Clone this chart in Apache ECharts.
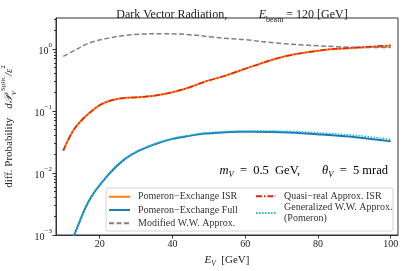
<!DOCTYPE html>
<html><head><meta charset="utf-8">
<script src="https://cdn.jsdelivr.net/npm/echarts@6/dist/echarts.min.js"></script>
<style>html,body{margin:0;padding:0;background:#fff}#c{width:407px;height:271px}</style>
</head><body><div id="c"></div>
<script>
// ---- data ----
const isrEnergies = [10, 13.4, 19, 22.6, 26.3, 30.8, 35.4, 40, 44.6, 49.1, 54.6, 59.2, 63.8, 68.4, 73, 77.5, 82.1, 86.7, 91.3, 95.8, 100];
const isrValues = [0.0229, 0.055, 0.1135, 0.145, 0.161, 0.167, 0.178, 0.201, 0.240, 0.300, 0.372, 0.462, 0.571, 0.697, 0.810, 0.893, 0.975, 1.02, 1.055, 1.085, 1.10];
const quasiRealValues = [0.0229, 0.055, 0.1135, 0.145, 0.161, 0.167, 0.178, 0.201, 0.240, 0.300, 0.372, 0.462, 0.571, 0.697, 0.810, 0.893, 0.975, 1.02, 1.065, 1.11, 1.15];
const wwEnergies = [10, 13.4, 17.1, 21.7, 26.3, 30.8, 37.3, 44.6, 51, 55.1, 60.1, 68.4, 77.4, 86.7, 93, 100];
const modifiedWWValues = [0.76, 0.97, 1.25, 1.47, 1.64, 1.73, 1.77, 1.70, 1.56, 1.48, 1.41, 1.25, 1.15, 1.08, 1.06, 1.06];
const fullEnergies = [12, 13, 17.1, 21.7, 26.3, 30.8, 35.4, 40, 44.6, 49.1, 53.7, 58.3, 62.9, 72, 81.2, 90.4, 100];
const fullValues = [0.0007, 0.0010, 0.0036, 0.0084, 0.0157, 0.0229, 0.0294, 0.0355, 0.0397, 0.0433, 0.0450, 0.0461, 0.0461, 0.0450, 0.0417, 0.0377, 0.0324];
const genWWValues = [0.0007, 0.0010, 0.0036, 0.0085, 0.0159, 0.0232, 0.0298, 0.0362, 0.0406, 0.0444, 0.0463, 0.0474, 0.0476, 0.0470, 0.0441, 0.0404, 0.0350];
const xTicks = [20, 40, 60, 80, 100];
const yTicks = [0.001, 0.01, 0.1, 1];
const yMinorTicks = [];
[0.001, 0.01, 0.1, 1].forEach(d => { for (let k = 2; k <= 9; k++) { const v = +(d * k).toPrecision(3); if (v < 3.1623) yMinorTicks.push(v); } });
const names = ['Pomeron\u2212Exchange ISR', 'Pomeron\u2212Exchange Full', 'Modified W.W. Approx.', 'Quasi\u2212real Approx. ISR', 'Generalized W.W. Approx.\n(Pomeron)'];

const pair = (xs, ys) => xs.map((x, i) => [x, ys[i]]);
const F = 'Liberation Serif';
const C = '#222';
const chart = echarts.init(document.getElementById('c'), null, {renderer: 'canvas'});
chart.setOption({
  animation: false,
  backgroundColor: '#fff',
  textStyle: {fontFamily: F},
  title: {
    text: '{r|Dark Vector Radiation,}       {i|E}{sb|beam}{r| = 120 [GeV]}',
    left: 227, top: 1, textAlign: 'center',
    textStyle: {fontWeight: 'normal', rich: {
      r: {fontFamily: F, fontSize: 12, fontWeight: 'normal', color: C, lineHeight: 14},
      i: {fontFamily: F, fontSize: 12, fontWeight: 'normal', fontStyle: 'italic', color: C, lineHeight: 14},
      sb: {fontFamily: F, fontSize: 8, fontWeight: 'normal', color: C, verticalAlign: 'bottom', lineHeight: 16}
    }}
  },
  grid: {left: 56, right: 9, top: 18, bottom: 36, show: true, borderColor: '#333', borderWidth: 1,
         backgroundColor: 'transparent', outerBoundsMode: 'none', containLabel: false},
  xAxis: {
    type: 'value', min: 8, max: 102,
    name: '{i|E}{sb|V}{r|  [GeV]}', nameLocation: 'middle', nameGap: 17,
    nameTextStyle: {rich: {
      r: {fontFamily: F, fontSize: 11, color: C},
      i: {fontFamily: F, fontSize: 11, fontStyle: 'italic', color: C},
      sb: {fontFamily: F, fontSize: 7.5, fontStyle: 'italic', color: C, verticalAlign: 'bottom', lineHeight: 16}
    }},
    axisLine: {lineStyle: {color: '#333', width: 1}},
    axisTick: {customValues: xTicks, length: 3.5, lineStyle: {color: '#333'}},
    axisLabel: {customValues: xTicks, fontFamily: F, fontSize: 10, color: C, margin: 4},
    splitLine: {show: false}
  },
  yAxis: [{
    type: 'log', logBase: 10, min: 0.001, max: 3.1623,
    name: '{r|diff. Probability}   {i|d\uD835\uDCAB}{sb|V}{sp|Split.}{i|/\u03B5}{sp|2}', nameLocation: 'middle', nameGap: 38,
    nameTextStyle: {rich: {
      r: {fontFamily: F, fontSize: 11, color: C, lineHeight: 16},
      i: {fontFamily: F, fontSize: 11, fontStyle: 'italic', color: C, lineHeight: 16},
      sb: {fontFamily: F, fontSize: 7, fontStyle: 'italic', color: C, verticalAlign: 'bottom', lineHeight: 18},
      sp: {fontFamily: F, fontSize: 7, color: C, verticalAlign: 'top', lineHeight: 18}
    }},
    axisLine: {show: true, lineStyle: {color: '#333', width: 1}},
    axisTick: {customValues: yTicks, length: 3.5, lineStyle: {color: '#333'}},
    axisLabel: {
      customValues: yTicks, margin: 4,
      formatter: v => { const e = Math.round(Math.log10(v)); return '{b|10}{s|' + (e < 0 ? '\u2212' + (-e) : e) + '}'; },
      rich: {b: {fontFamily: F, fontSize: 10, color: C, lineHeight: 14, verticalAlign: 'bottom'},
             s: {fontFamily: F, fontSize: 7, verticalAlign: 'top', lineHeight: 14, color: C}}
    },
    splitLine: {show: false}
  }, {
    type: 'log', logBase: 10, min: 0.001, max: 3.1623, position: 'left',
    axisLine: {show: false},
    axisTick: {customValues: yMinorTicks, length: 2, lineStyle: {color: '#333'}},
    axisLabel: {show: false},
    splitLine: {show: false}
  }],
  legend: [{
    data: names.slice(0, 3), orient: 'vertical', left: 108, top: 191, padding: 0,
    itemWidth: 21, itemHeight: 8, itemGap: 1.7, itemStyle: {opacity: 0},
    textStyle: {fontFamily: F, fontSize: 10, color: '#333', lineHeight: 11.5, padding: [0, 0, 0, 3]}
  }, {
    data: names.slice(3), orient: 'vertical', left: 255, top: 191, padding: 0,
    itemWidth: 20, itemHeight: 8, itemGap: 1, itemStyle: {opacity: 0},
    textStyle: {fontFamily: F, fontSize: 10, color: '#333', lineHeight: 10.5, padding: [0, 0, 0, 3]}
  }],
  graphic: [{
    type: 'rect', z: 3, shape: {x: 106, y: 188, width: 287, height: 43, r: 2},
    style: {fill: 'rgba(255,255,255,0.85)', stroke: '#d4d4d4', lineWidth: 1}
  }, {
    type: 'text', z: 5, right: 19, top: 164,
    style: {
      text: '{i|m}{sb|V}{r|  =  0.5  GeV,       }{i|\u03B8}{sb|V}{r|  =  5 mrad}',
      rich: {
        r: {fontFamily: F, fontSize: 12.5, color: C, lineHeight: 16},
        i: {fontFamily: F, fontSize: 12.5, fontStyle: 'italic', color: C, lineHeight: 16},
        sb: {fontFamily: F, fontSize: 8.5, fontStyle: 'italic', color: C, verticalAlign: 'bottom', lineHeight: 18}
      }
    }
  }],
  series: [
    {name: names[0], type: 'line', data: pair(isrEnergies, isrValues), symbol: 'none', smooth: 0.35, clip: true,
     lineStyle: {color: '#ff7f0e', width: 2}, itemStyle: {color: '#ff7f0e'}, z: 2},
    {name: names[1], type: 'line', data: pair(fullEnergies, fullValues), symbol: 'none', smooth: 0.35, clip: true,
     lineStyle: {color: '#1f77b4', width: 2}, itemStyle: {color: '#1f77b4'}, z: 2},
    {name: names[2], type: 'line', data: pair(wwEnergies, modifiedWWValues), symbol: 'none', smooth: 0.35, clip: true,
     lineStyle: {color: '#808080', width: 1.5, type: [5, 2.5]}, itemStyle: {color: '#808080'}, z: 2},
    {name: names[3], type: 'line', data: pair(isrEnergies, quasiRealValues), symbol: 'none', smooth: 0.35, clip: true,
     lineStyle: {color: '#e0201b', width: 1.5, type: [6, 2, 1.5, 2]}, itemStyle: {color: '#e0201b'}, z: 2},
    {name: names[4], type: 'line', data: pair(fullEnergies, genWWValues), symbol: 'none', smooth: 0.35, clip: true,
     lineStyle: {color: '#17becf', width: 1.5, type: [1.5, 1.5]}, itemStyle: {color: '#17becf'}, z: 2}
  ]
});
</script></body></html>
